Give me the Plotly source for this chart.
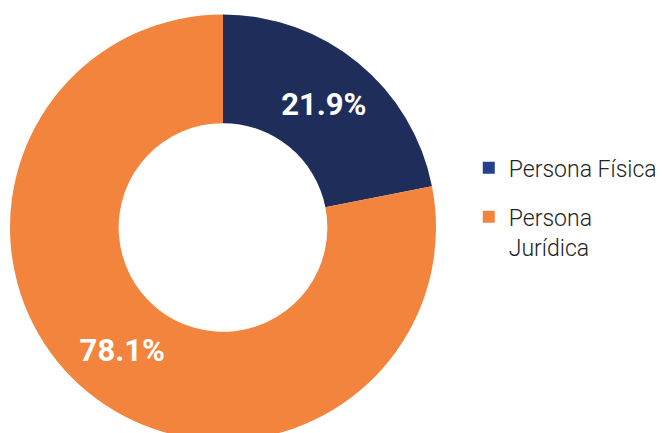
import plotly.graph_objects as go

labels = ["Persona Física", "Persona<br>Jurídica"]
values = [21.9, 78.1]
text_labels = ["21.9%", "78.1%"]
colors = ["#1E2D5A", "#F2843E"]
legend_colors = ["#25408F", "#F2843E"]

W, H = 663, 433
fig = go.Figure()
fig.add_trace(go.Pie(
    labels=labels,
    values=values,
    text=text_labels,
    textinfo="text",
    textposition="inside",
    insidetextorientation="horizontal",
    textfont=dict(family="Roboto", size=31, color="white", weight="bold"),
    marker=dict(colors=colors, line=dict(width=0)),
    hole=0.49,
    sort=False,
    direction="clockwise",
    rotation=0,
    hoverinfo="label+percent",
    showlegend=False,
    domain=dict(x=[2 / W, 428 / W], y=[0, 1]),
))
for i, (lab, col) in enumerate(zip(labels, legend_colors)):
    fig.add_trace(go.Scatter(
        x=[None], y=[None], mode="markers", name=lab,
        legendgroup=f"g{i}",
        marker=dict(symbol="square", size=12, color=col),
    ))
fig.update_layout(
    width=W, height=H,
    margin=dict(l=0, r=0, t=6, b=0),
    paper_bgcolor="white",
    plot_bgcolor="white",
    font=dict(family="Roboto", color="#222222"),
    xaxis=dict(visible=False, domain=[0.99, 1]),
    yaxis=dict(visible=False),
    legend=dict(
        x=0.695, y=0.69, xanchor="left", yanchor="top",
        font=dict(family="Roboto", size=23, color="#222222", weight=300),
        valign="top",
        itemwidth=30,
        traceorder="grouped",
        tracegroupgap=16,
    ),
    showlegend=True,
)
fig.write_html("out.html")
